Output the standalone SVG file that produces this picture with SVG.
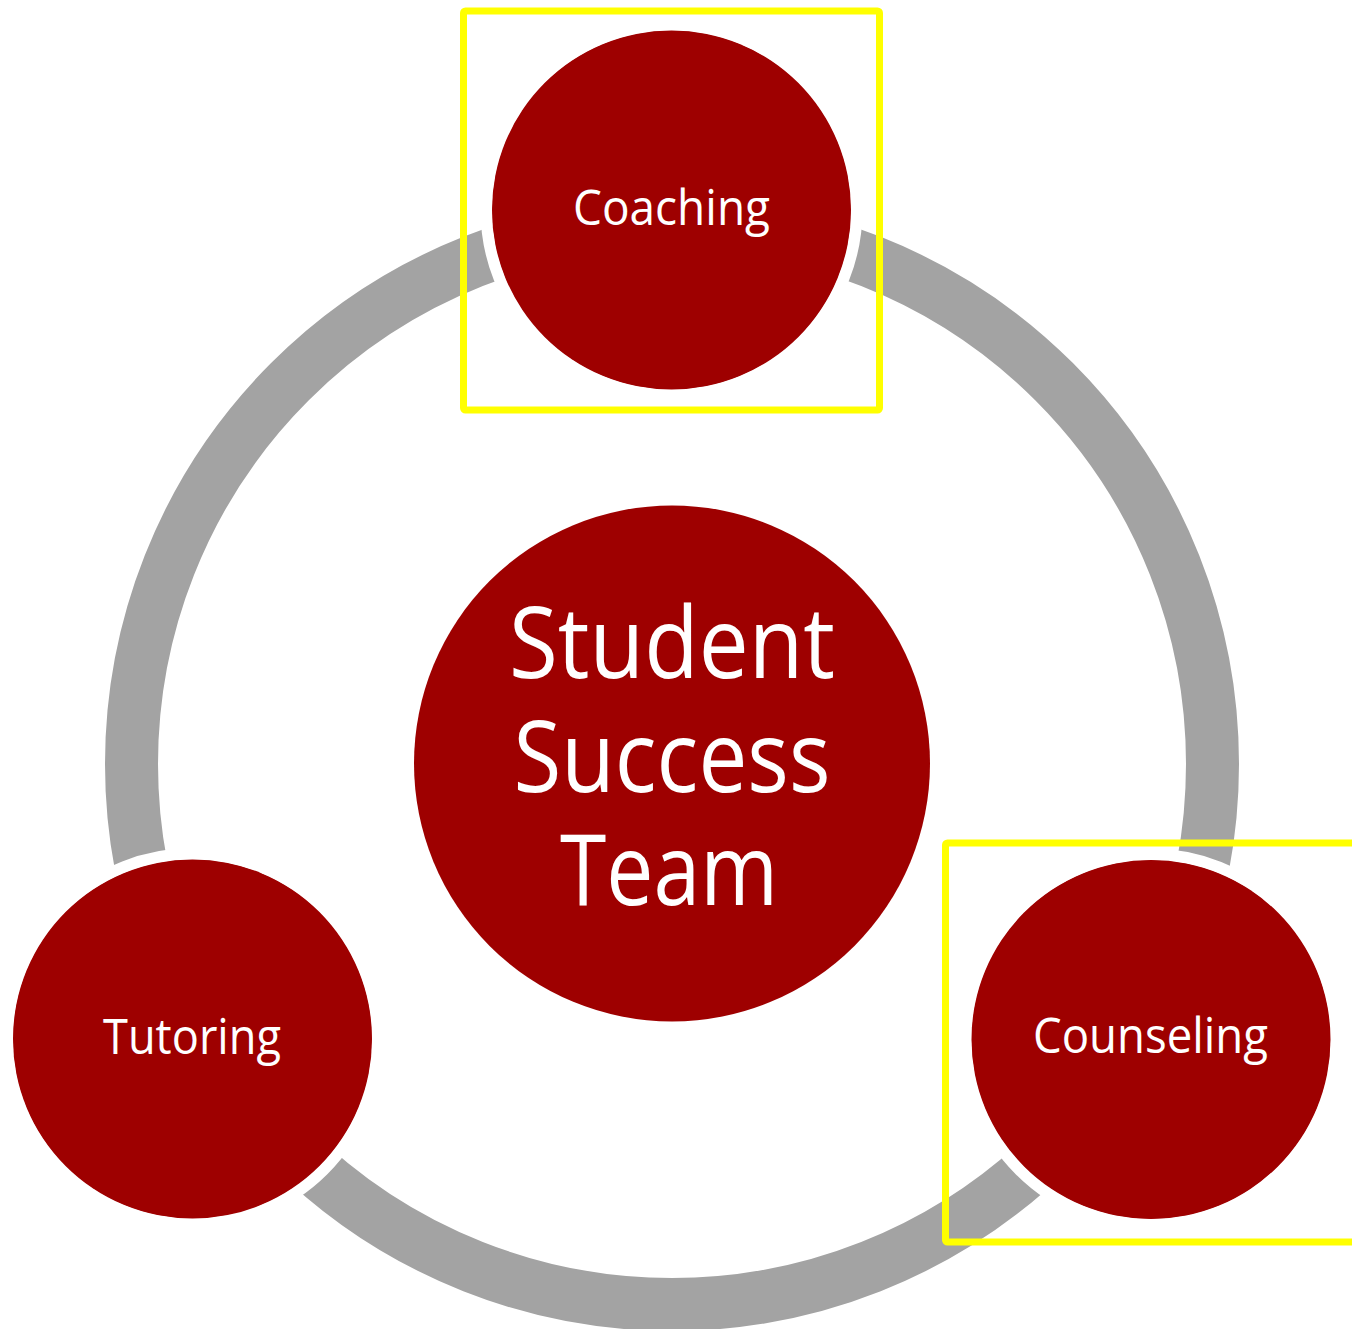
<svg xmlns="http://www.w3.org/2000/svg" width="1352" height="1329" viewBox="0 0 1352 1329">
<style>
.node{fill:#9E0000;stroke:#FFFFFF;stroke-width:12}
.lbl{fill:#FFFFFF;font-family:"Open Sans","Noto Sans","DejaVu Sans",sans-serif;font-size:50px;text-anchor:middle}
.big{fill:#FFFFFF;font-family:"Open Sans","Noto Sans","DejaVu Sans",sans-serif;font-size:98px;text-anchor:middle}
.hl{fill:none;stroke:#FFFF00;stroke-width:7}
</style>
<rect width="1352" height="1329" fill="#FFFFFF"/>
<g id="connectors">
<circle cx="672" cy="764" r="540.5" fill="none" stroke="#A3A3A3" stroke-width="53"/>
</g>
<g id="center">
<circle cx="672" cy="763.5" r="258" fill="#9E0000"/>
<text class="big" x="672" y="678" textLength="326" lengthAdjust="spacingAndGlyphs">Student</text>
<text class="big" x="672" y="792" textLength="317" lengthAdjust="spacingAndGlyphs">Success</text>
<text class="big" x="669" y="905" textLength="218" lengthAdjust="spacingAndGlyphs">Team</text>
</g>
<g id="coaching">
<circle class="node" cx="671.5" cy="210" r="185"/>
<circle cx="671.5" cy="210" r="179.5" fill="#9E0000"/>
<text class="lbl" x="671.5" y="225" textLength="197" lengthAdjust="spacingAndGlyphs">Coaching</text>
</g>
<g id="tutoring">
<circle class="node" cx="192.5" cy="1039" r="185"/>
<circle cx="192.5" cy="1039" r="179.5" fill="#9E0000"/>
<text class="lbl" x="192" y="1054" textLength="178" lengthAdjust="spacingAndGlyphs">Tutoring</text>
</g>
<g id="counseling">
<circle class="node" cx="1151" cy="1039.5" r="185"/>
<circle cx="1151" cy="1039.5" r="179.5" fill="#9E0000"/>
<text class="lbl" x="1150.5" y="1053" textLength="235" lengthAdjust="spacingAndGlyphs">Counseling</text>
</g>
<g id="highlights">
<rect class="hl" x="463.5" y="11" width="416" height="399" rx="2"/>
<rect class="hl" x="945.5" y="843" width="420" height="399" rx="2"/>
</g>
</svg>
